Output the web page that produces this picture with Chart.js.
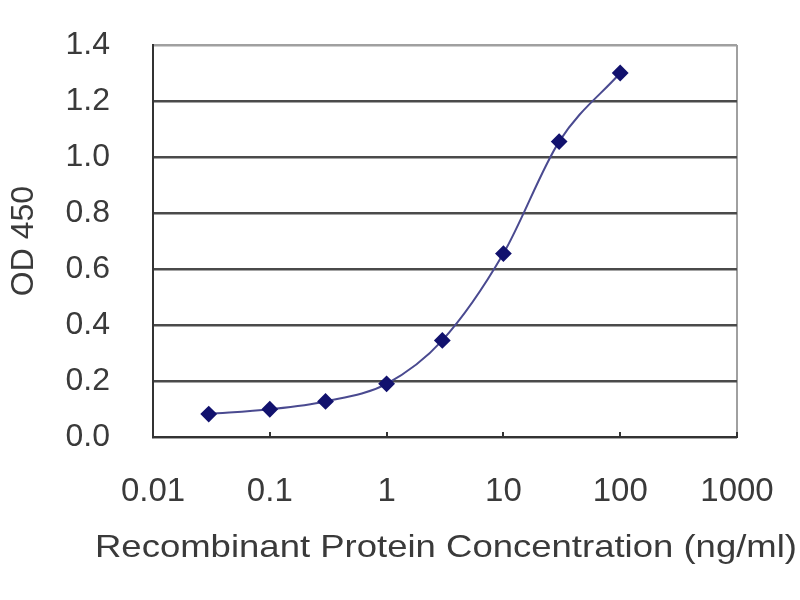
<!DOCTYPE html>
<html>
<head>
<meta charset="utf-8">
<script src="https://cdn.jsdelivr.net/npm/chart.js@4/dist/chart.umd.min.js"></script>
<style>
  html, body { margin: 0; padding: 0; background: #fff; }
  #wrap { width: 800px; height: 600px; }
</style>
</head>
<body>
<div id="wrap"><canvas id="grafico"></canvas></div>
<script>
// datos
const concentraciones = [0.03, 0.1, 0.3, 1, 3, 10, 30, 100];
const valoresOD       = [0.082, 0.099, 0.127, 0.19, 0.345, 0.655, 1.055, 1.30];
const ticksX          = [0.01, 0.1, 1, 10, 100, 1000];
const etiquetasX      = ["0.01", "0.1", "1", "10", "100", "1000"];
const tituloX         = "Recombinant Protein Concentration (ng/ml)";

const FUENTE = "'Liberation Sans', Arial, sans-serif";
const TEXTO  = "#3a3a3a";

const puntos = concentraciones.map((c, i) => ({ x: c, y: valoresOD[i] }));

// el titulo del eje X va ensanchado como en la imagen original
// (el titulo normal de Chart.js lo comprime al ancho del eje)
const tituloEjeX = {
  id: "tituloEjeX",
  afterDraw(chart) {
    const { ctx, scales: { x } } = chart;
    const centro = (x.left + x.right) / 2 + 1;
    ctx.save();
    ctx.font = `32px ${FUENTE}`;
    ctx.fillStyle = TEXTO;
    ctx.textAlign = "center";
    ctx.textBaseline = "middle";
    const ancho = ctx.measureText(tituloX).width;
    ctx.translate(centro, x.bottom - 52);
    ctx.scale(702 / ancho, 1);
    ctx.fillText(tituloX, 0, 0);
    ctx.restore();
  }
};

const ctx = document.getElementById("grafico").getContext("2d");
new Chart(ctx, {
  type: "line",
  data: {
    datasets: [{
      data: puntos,
      borderColor: "#4a4a90",
      borderWidth: 2,
      cubicInterpolationMode: "monotone",
      pointStyle: "rectRot",
      pointRadius: 7,
      pointBackgroundColor: "#12126e",
      pointBorderColor: "#12126e",
      fill: false
    }]
  },
  options: {
    responsive: true,
    maintainAspectRatio: false,
    animation: false,
    layout: { padding: { top: 45, right: 63, left: 0, bottom: 0 } },
    plugins: {
      legend: { display: false },
      tooltip: { enabled: false }
    },
    scales: {
      x: {
        type: "logarithmic",
        min: 0.01,
        max: 1000,
        afterBuildTicks: s => { s.ticks = ticksX.map(v => ({ value: v })); },
        afterFit: s => { s.height = 163; s.paddingLeft = 0; s.paddingRight = 0; },
        grid: {
          drawOnChartArea: true,
          color: c => (c.tick && c.tick.value === 1000) ? "#a0a0a0" : "rgba(0,0,0,0)",
          lineWidth: 2,
          tickColor: "#333",
          tickLength: -5
        },
        border: { display: true, color: "#333", width: 2 },
        ticks: {
          autoSkip: false,
          maxRotation: 0,
          padding: 40,
          color: TEXTO,
          font: { family: FUENTE, size: 33 },
          callback: v => {
            const i = ticksX.indexOf(v);
            return i >= 0 ? etiquetasX[i] : "";
          }
        },
        title: { display: false }
      },
      y: {
        min: 0,
        max: 1.4,
        afterFit: s => { s.width = 153; s.paddingTop = 0; s.paddingBottom = 0; },
        grid: {
          color: c => (c.tick && c.tick.value >= 1.4) ? "#a0a0a0" : "#4a4a4a",
          lineWidth: 2.5,
          drawTicks: false
        },
        border: { display: true, color: "#333", width: 2 },
        ticks: {
          stepSize: 0.2,
          padding: 43,
          color: TEXTO,
          font: { family: FUENTE, size: 32 },
          callback: v => Number(v).toFixed(1)
        },
        title: {
          display: true,
          text: "OD 450",
          color: TEXTO,
          font: { family: FUENTE, size: 32 },
          padding: { top: 5, bottom: 0 }
        }
      }
    }
  },
  plugins: [tituloEjeX]
});
</script>
</body>
</html>
